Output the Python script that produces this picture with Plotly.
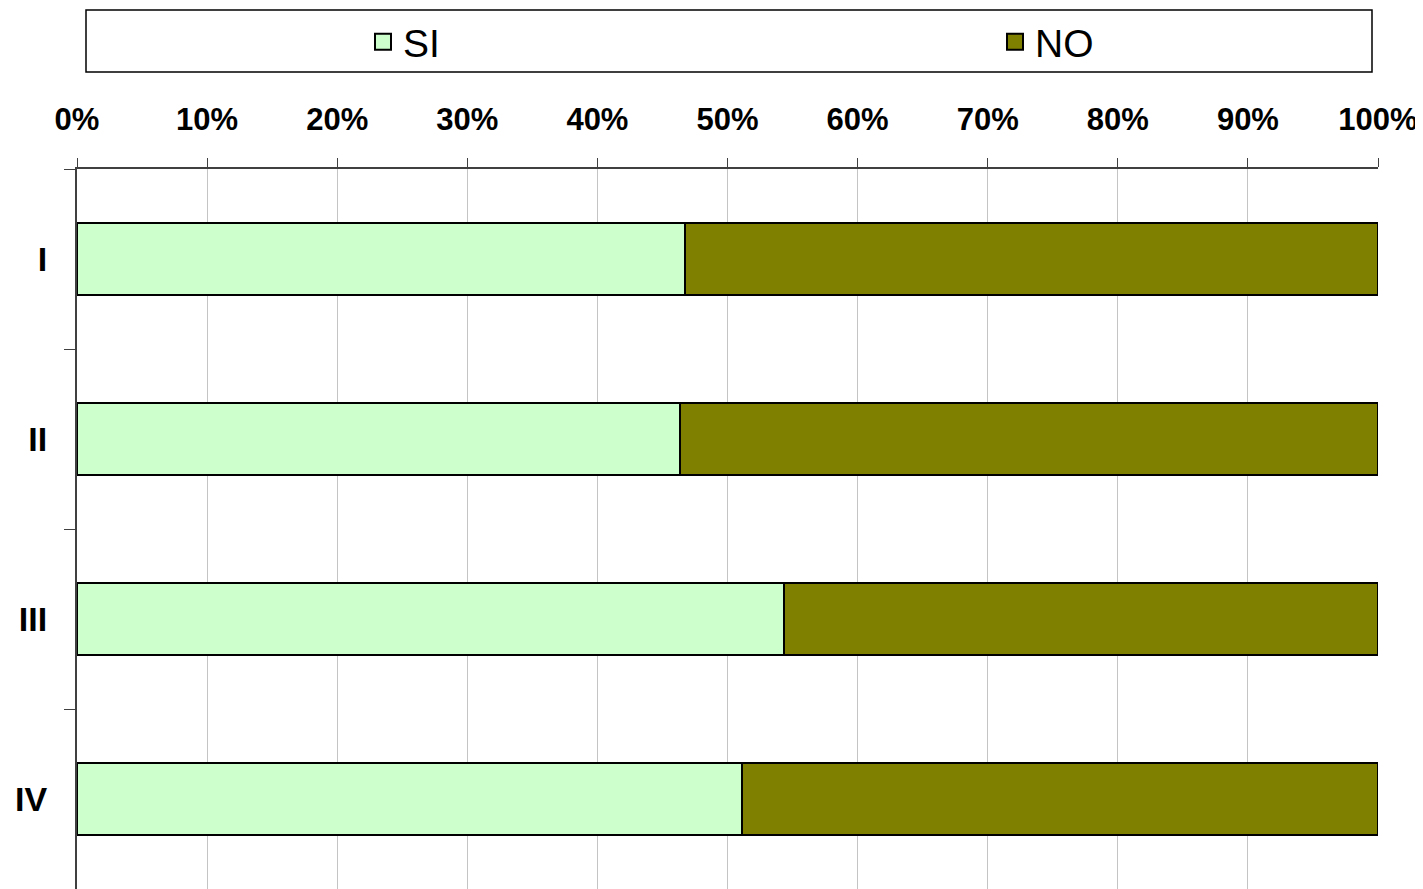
"""Stacked 100% horizontal bars: SI / NO per group."""

import plotly.graph_objects as go

# data
CATEGORIES = ["I", "II", "III", "IV"]
SERIES = ["SI", "NO"]
SI_PCT = [46.7, 46.35, 54.35, 51.1]
NO_PCT = [53.3, 53.65, 45.65, 48.9]
X_TICKS = [0, 10, 20, 30, 40, 50, 60, 70, 80, 90, 100]

# styles
_FONT_FAMILY = "Arial, Liberation Sans, sans-serif"
_SI_COLOR = "#ccffcc"
_NO_COLOR = "#808000"
_GRID = "#c4c4c4"
_AXIS = "#404040"

# page has an 8px body margin; figure fills the rest of the 1423x889 window.
# plot area spans page x 77..1378, y 169..889
_W, _H = 1415, 881
_L, _R, _T, _B = 69, 45, 161, 0
_PW, _PH = _W - _L - _R, _H - _T - _B


def _px_x(page_x):
    return (page_x - 8 - _L) / _PW


def _px_y(page_y):
    return 1 + (_T - (page_y - 8)) / _PH


fig = go.Figure()
for name, vals, color, leg in [
    ("SI", SI_PCT, _SI_COLOR, "legend"),
    ("NO", NO_PCT, _NO_COLOR, "legend2"),
]:
    fig.add_trace(go.Bar(
        y=CATEGORIES,
        x=vals,
        name=name,
        orientation="h",
        width=0.4,
        marker=dict(color=color, line=dict(color="black", width=2)),
        showlegend=False,
    ))
    # legend proxy (bigger square than the bar legend glyph)
    fig.add_trace(go.Scatter(
        x=[None], y=[None],
        name=name,
        mode="markers",
        marker=dict(symbol="square", size=16, color=color,
                    line=dict(color="black", width=2)),
        legend=leg,
        hoverinfo="skip",
    ))

_LEGEND_COMMON = dict(
    orientation="h",
    xanchor="left",
    y=_px_y(42), yanchor="middle",
    font=dict(family=_FONT_FAMILY, size=39, color="black"),
    bgcolor="rgba(0,0,0,0)",
)

fig.update_layout(
    width=_W,
    height=_H,
    barmode="stack",
    paper_bgcolor="white",
    plot_bgcolor="white",
    margin=dict(l=_L, r=_R, t=_T, b=_B, autoexpand=False),
    font=dict(family=_FONT_FAMILY, color="black"),
    showlegend=True,
    legend=dict(x=_px_x(363), **_LEGEND_COMMON),
    legend2=dict(x=_px_x(995), **_LEGEND_COMMON),
    # legend frame spanning the width
    shapes=[dict(
        type="rect", xref="paper", yref="paper",
        x0=_px_x(86), x1=_px_x(1372),
        y0=_px_y(72), y1=_px_y(10),
        line=dict(color="black", width=1.5),
        fillcolor="rgba(0,0,0,0)",
    )],
)

fig.update_xaxes(
    side="top",
    range=[0, 100],
    tickvals=X_TICKS,
    ticktext=[f"{v}%" for v in X_TICKS],
    ticks="outside",
    ticklen=9,
    tickcolor=_AXIS,
    ticklabelstandoff=16,
    tickfont=dict(family=_FONT_FAMILY, size=31, weight="bold", color="black"),
    showline=True,
    linecolor=_AXIS,
    linewidth=2,
    showgrid=True,
    gridcolor=_GRID,
    gridwidth=1,
    zeroline=False,
)

fig.update_yaxes(
    autorange=False,
    range=[3.5, -0.5],
    categoryorder="array",
    categoryarray=CATEGORIES,
    tickson="boundaries",
    ticks="outside",
    ticklen=11,
    tickcolor=_AXIS,
    ticklabelstandoff=21,
    tickfont=dict(family=_FONT_FAMILY, size=34, weight="bold", color="black"),
    showline=True,
    linecolor=_AXIS,
    linewidth=2,
    showgrid=False,
    zeroline=False,
)

fig.write_html("out.html")
